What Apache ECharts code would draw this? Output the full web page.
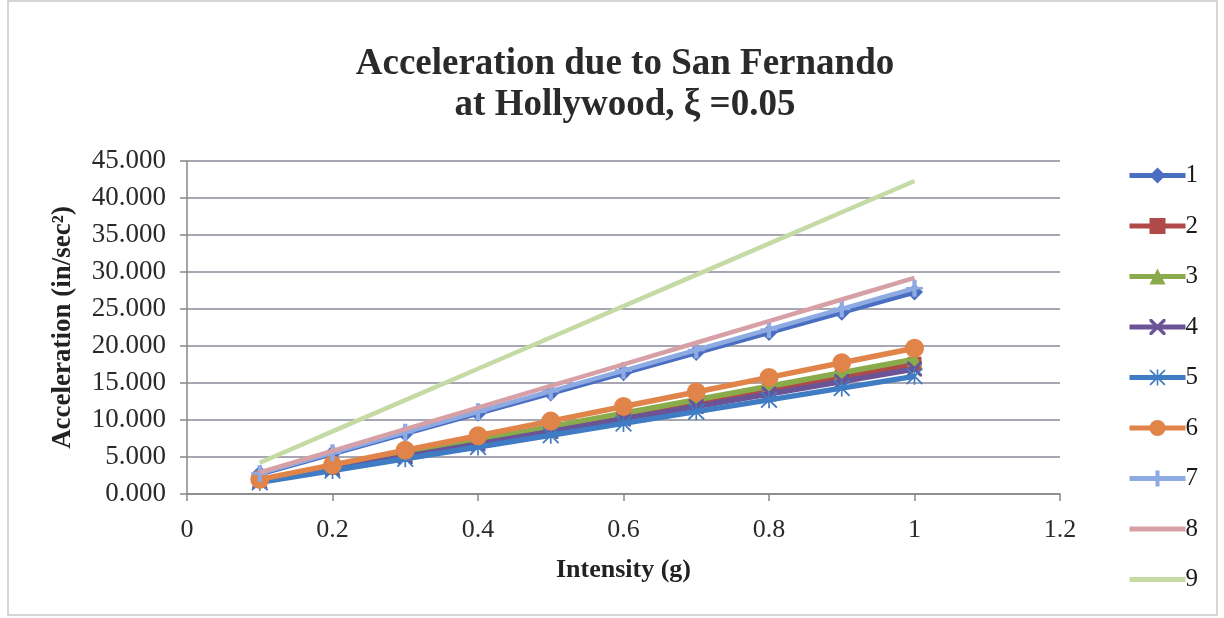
<!DOCTYPE html>
<html>
<head>
<meta charset="utf-8">
<script src="https://cdn.jsdelivr.net/npm/echarts@6/dist/echarts.min.js"></script>
<style>
html,body{margin:0;padding:0;background:#fff;}
#chart{width:1224px;height:618px;}
</style>
</head>
<body>
<div id="chart"></div>
<script>
const intensity = [0.1, 0.2, 0.3, 0.4, 0.5, 0.6, 0.7, 0.8, 0.9, 1.0];
const s1 = [2.73, 5.46, 8.19, 10.92, 13.65, 16.38, 19.11, 21.84, 24.57, 27.30];
const s2 = [1.76, 3.52, 5.28, 7.04, 8.80, 10.56, 12.32, 14.08, 15.84, 17.60];
const s3 = [1.82, 3.64, 5.46, 7.28, 9.10, 10.92, 12.74, 14.56, 16.38, 18.20];
const s4 = [1.69, 3.38, 5.07, 6.76, 8.45, 10.14, 11.83, 13.52, 15.21, 16.90];
const s5 = [1.59, 3.18, 4.77, 6.36, 7.95, 9.54, 11.13, 12.72, 14.31, 15.90];
const s6 = [1.97, 3.94, 5.91, 7.88, 9.85, 11.82, 13.79, 15.76, 17.73, 19.70];
const s7 = [2.78, 5.56, 8.34, 11.12, 13.90, 16.68, 19.46, 22.24, 25.02, 27.80];
const s8 = [2.92, 5.84, 8.76, 11.68, 14.60, 17.52, 20.44, 23.36, 26.28, 29.20];
const s9 = [4.23, 8.46, 12.69, 16.92, 21.15, 25.38, 29.61, 33.84, 38.07, 42.30];
const seriesNames = ['1','2','3','4','5','6','7','8','9'];
const seriesData = [s1, s2, s3, s4, s5, s6, s7, s8, s9];
const colors = ['#4a6fc2','#b04a48','#8aab4c','#6a5496','#3f7cc4','#e0844a','#8eaae2','#d6a0a6','#c6daa6'];

const FONT = '"Liberation Serif","Times New Roman",serif';
const X_SYM = 'path://M0,0L3,0L10,7L17,0L20,0L20,3L13,10L20,17L20,20L17,20L10,13L3,20L0,20L0,17L7,10L0,3Z';
const STAR_SYM = 'path://M0,1.5L1.5,0L10,8.5L18.5,0L20,1.5L11.5,10L20,18.5L18.5,20L10,11.5L1.5,20L0,18.5L8.5,10Z M9,0L11,0L11,20L9,20Z';
const PLUS_SYM = 'path://M8.5,0L11.5,0L11.5,20L8.5,20Z M4,8.5L16,8.5L16,11.5L4,11.5Z';
const BAR_SYM = 'path://M0,0L0.01,0L0.01,0.01Z M0,8.5L20,8.5L20,11.5L0,11.5Z M19.99,19.99L20,19.99L20,20Z';
const symbols = ['diamond','rect','triangle',X_SYM,STAR_SYM,'circle',PLUS_SYM,BAR_SYM,BAR_SYM];
const symSizes = [17, 14, 15, 15, 17, 19, 17, 0, 0];
const widths = [5.5,5.5,5.5,5.5,5.5,5.5,4.5,4.5,4.5];

const series = seriesData.map((d, i) => ({
  name: seriesNames[i],
  type: 'line',
  data: d.map((v, j) => [intensity[j], v]),
  symbol: symbols[i],
  symbolSize: symSizes[i],
  showSymbol: i < 7,
  lineStyle: { color: colors[i], width: widths[i] },
  itemStyle: { color: colors[i], borderWidth: 0 },
  z: 2 + i,
  animation: false
}));

const chart = echarts.init(document.getElementById('chart'));
chart.setOption({
  backgroundColor: '#fff',
  animation: false,
  title: {
    text: 'Acceleration due to San Fernando\nat Hollywood, \u03be =0.05',
    left: 620, top: 39, textAlign: 'center',
    textStyle: { fontFamily: FONT, fontWeight: 'bold', fontSize: 37, color: '#2a2a2a', lineHeight: 41 }
  },
  legend: {
    orient: 'vertical',
    left: 1122, top: 158,
    itemWidth: 56, itemHeight: 20, itemGap: 25.5,
    lineStyle: { width: 5 },
    textStyle: { fontFamily: FONT, fontSize: 25, color: '#1a1a1a', padding: [4,0,0,-5] },
    data: seriesNames
  },
  grid: { left: 187, right: 164, top: 161, bottom: 124 },
  xAxis: {
    type: 'value', min: 0, max: 1.2, interval: 0.2,
    name: 'Intensity (g)', nameLocation: 'middle', nameGap: 63,
    nameTextStyle: { fontFamily: FONT, fontWeight: 'bold', fontSize: 26, color: '#222' },
    axisLine: { show: true, lineStyle: { color: '#888', width: 1.5 } },
    axisTick: { show: true, inside: false, length: 7, lineStyle: { color: '#888', width: 1.5 } },
    axisLabel: { fontFamily: FONT, fontSize: 26, color: '#2a2a2a', margin: 23 },
    splitLine: { show: false }
  },
  yAxis: {
    type: 'value', min: 0, max: 45, interval: 5,
    name: 'Acceleration (in/sec\u00b2)', nameLocation: 'middle', nameGap: 110,
    nameTextStyle: { fontFamily: FONT, fontWeight: 'bold', fontSize: 27, color: '#222' },
    axisLine: { show: true, lineStyle: { color: '#888', width: 1.5 } },
    axisTick: { show: true, inside: false, length: 7, lineStyle: { color: '#888', width: 1.5 } },
    axisLabel: { fontFamily: FONT, fontSize: 27, color: '#2a2a2a', margin: 21,
      formatter: v => v.toFixed(3) },
    splitLine: { show: true, lineStyle: { color: '#8a8a9a', width: 1.5 } }
  },
  graphic: [{
    type: 'rect', shape: { x: 8, y: 1, width: 1209, height: 614 },
    style: { fill: 'none', stroke: '#c8c8c8', lineWidth: 1.5 }, silent: true, z: -1
  }],
  series: series
});
</script>
</body>
</html>
